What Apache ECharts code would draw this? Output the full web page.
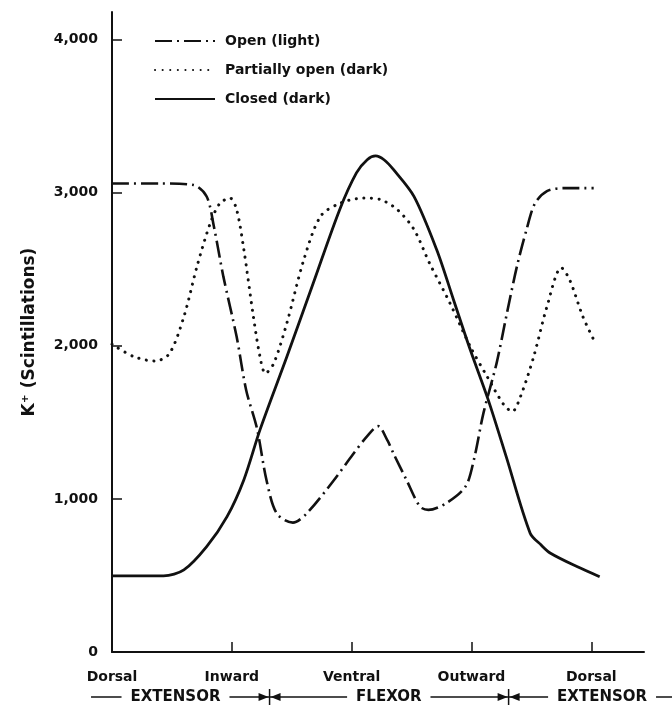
<!DOCTYPE html>
<html>
<head>
<meta charset="utf-8">
<script src="https://cdn.jsdelivr.net/npm/echarts@6/dist/echarts.min.js"></script>
<style>
  html, body { margin: 0; padding: 0; background: #fff; }
  #chart { width: 672px; height: 716px; }
</style>
</head>
<body>
<div id="chart"></div>
<script>
  // positions round the limb: Dorsal = 0, Inward = 1, ... (x value)
  var positions = ['Dorsal', 'Inward', 'Ventral', 'Outward', 'Dorsal']
  var yTicks = [0, 1000, 2000, 3000, 4000]

  // K+ (scintillations), [position, value]
  var openLight = [
    [0.00, 3060], [0.40, 3060], [0.68, 3050], [0.79, 2975], [0.85, 2780],
    [0.93, 2450], [1.04, 2060], [1.12, 1710], [1.21, 1460], [1.29, 1120],
    [1.375, 905], [1.51, 845], [1.625, 905], [1.85, 1120], [2.01, 1290],
    [2.13, 1410], [2.22, 1475], [2.30, 1380], [2.35, 1295], [2.46, 1120],
    [2.57, 950], [2.64, 928], [2.79, 972], [2.95, 1080], [3.02, 1255],
    [3.10, 1560], [3.21, 1887], [3.29, 2190], [3.38, 2520], [3.46, 2760],
    [3.53, 2930], [3.63, 3010], [3.77, 3030], [4.02, 3030]
  ]
  var partlyOpenDark = [
    [0.00, 2010], [0.18, 1930], [0.36, 1900], [0.48, 1950], [0.60, 2190],
    [0.71, 2520], [0.82, 2800], [0.90, 2930], [0.985, 2965], [1.04, 2890],
    [1.10, 2630], [1.18, 2190], [1.235, 1930], [1.28, 1820], [1.35, 1885],
    [1.46, 2150], [1.60, 2560], [1.74, 2845], [1.90, 2930], [2.10, 2965],
    [2.24, 2955], [2.38, 2890], [2.52, 2760], [2.65, 2540], [2.82, 2280],
    [2.99, 1995], [3.13, 1800], [3.27, 1615], [3.34, 1570], [3.41, 1670],
    [3.52, 1930], [3.63, 2255], [3.75, 2510], [3.82, 2430], [3.93, 2190],
    [4.02, 2040]
  ]
  var closedDark = [
    [0.00, 497], [0.43, 497], [0.60, 536], [0.79, 688], [0.96, 884],
    [1.10, 1124], [1.235, 1451], [1.46, 1930], [1.68, 2410], [1.90, 2889],
    [2.04, 3129], [2.13, 3215], [2.20, 3240], [2.27, 3215], [2.35, 3150],
    [2.52, 2976], [2.71, 2627], [2.85, 2301], [2.99, 1974], [3.14, 1647],
    [3.29, 1276], [3.49, 776], [3.58, 700], [3.66, 645], [3.88, 558],
    [4.07, 492]
  ]

  // muscle regions below the axis
  var regionNames = ['EXTENSOR', 'FLEXOR', 'EXTENSOR']
  var regionCenters = [0.53, 2.31, 4.09]
  var regionBreaks = [1.315, 3.31]
  var regionSpan = [-0.175, 4.68]

  var ink = '#111'
  var font = 'DejaVu Sans'

  var chart = echarts.init(document.getElementById('chart'))
  var option = {
    animation: false,
    backgroundColor: '#fff',
    grid: { left: 112, right: 28, top: 12, bottom: 64 },
    legend: {
      orient: 'vertical',
      left: 149,
      top: 29,
      itemWidth: 60,
      itemHeight: 14,
      itemGap: 15,
      itemStyle: { opacity: 0 },
      textStyle: { fontFamily: font, fontWeight: 'bold', fontSize: 14, color: ink, padding: [0, 0, 0, 5] },
      data: ['Open (light)', 'Partially open (dark)', 'Closed (dark)']
    },
    xAxis: {
      type: 'value',
      min: 0,
      max: 4.44,
      interval: 1,
      splitLine: { show: false },
      axisLine: { lineStyle: { color: ink, width: 2 } },
      axisTick: { inside: true, length: 10, lineStyle: { color: ink, width: 1.5 }, customValues: [1, 2, 3, 4] },
      axisLabel: {
        customValues: [0, 1, 2, 3, 4],
        margin: 18,
        color: ink,
        fontFamily: font,
        fontWeight: 'bold',
        fontSize: 14,
        formatter: function (v) { return positions[Math.round(v)] || '' }
      }
    },
    yAxis: {
      type: 'value',
      min: 0,
      max: 4180,
      interval: 1000,
      name: 'K\u207A (Scintillations)',
      nameLocation: 'middle',
      nameGap: 74,
      nameTextStyle: { fontFamily: font, fontWeight: 'bold', fontSize: 17, color: ink },
      splitLine: { show: false },
      axisLine: { lineStyle: { color: ink, width: 2 } },
      axisTick: { inside: true, length: 10, lineStyle: { color: ink, width: 1.5 }, customValues: yTicks },
      axisLabel: {
        customValues: yTicks,
        margin: 14,
        color: ink,
        fontFamily: font,
        fontWeight: 'bold',
        fontSize: 14,
        formatter: function (v) { return v.toLocaleString('en-US') }
      }
    },
    series: [{
      name: 'Open (light)',
      type: 'line',
      smooth: 0.3,
      symbol: 'none',
      data: openLight,
      lineStyle: { color: ink, width: 2.6, type: [17, 5, 2, 5] },
      itemStyle: { color: ink }
    }, {
      name: 'Partially open (dark)',
      type: 'line',
      smooth: 0.3,
      symbol: 'none',
      data: partlyOpenDark,
      lineStyle: { color: ink, width: 3, type: [0.1, 7.5], cap: 'round' },
      itemStyle: { color: ink }
    }, {
      name: 'Closed (dark)',
      type: 'line',
      smooth: 0.3,
      symbol: 'none',
      data: closedDark,
      lineStyle: { color: ink, width: 2.8 },
      itemStyle: { color: ink }
    }]
  }
  chart.setOption(option)

  // region row: built from the x scale after the first layout
  var rowY = 697
  var px = function (v) { return chart.convertToPixel({ xAxisIndex: 0 }, v) }
  var graphics = [{
    type: 'line',
    shape: { x1: px(regionSpan[0]), y1: rowY, x2: px(regionSpan[1]), y2: rowY },
    style: { stroke: ink, lineWidth: 1.5 }
  }]
  regionBreaks.forEach(function (b) {
    var x = px(b)
    graphics.push({
      type: 'line',
      shape: { x1: x, y1: rowY - 8, x2: x, y2: rowY + 8 },
      style: { stroke: ink, lineWidth: 1.5 }
    })
    graphics.push({
      type: 'polygon',
      shape: { points: [[x - 11, rowY - 4], [x - 1, rowY], [x - 11, rowY + 4]] },
      style: { fill: ink }
    })
    graphics.push({
      type: 'polygon',
      shape: { points: [[x + 11, rowY - 4], [x + 1, rowY], [x + 11, rowY + 4]] },
      style: { fill: ink }
    })
  })
  regionNames.forEach(function (name, i) {
    graphics.push({
      type: 'text',
      x: px(regionCenters[i]),
      y: rowY,
      style: {
        text: name,
        fill: ink,
        font: 'bold 15px "DejaVu Sans"',
        align: 'center',
        verticalAlign: 'middle',
        backgroundColor: '#fff',
        padding: [2, 9]
      }
    })
  })
  chart.setOption({ graphic: graphics })
</script>
</body>
</html>
